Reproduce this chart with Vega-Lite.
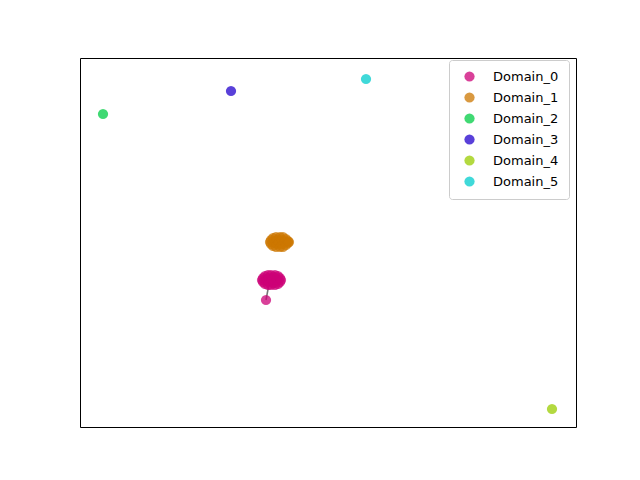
{
  "$schema": "https://vega.github.io/schema/vega-lite/v6.json",
  "width": 496,
  "height": 369,
  "autosize": {"type": "none"},
  "padding": {"left": 80, "top": 58, "right": 64, "bottom": 53},
  "background": "white",
  "config": {
    "view": {"stroke": "black", "strokeWidth": 1},
    "font": "DejaVu Sans"
  },
  "datasets": {
    "pts": [
      {"domain": "Domain_0", "x": 186, "y": 127},
      {"domain": "Domain_0", "x": 182, "y": 147},
      {"domain": "Domain_0", "x": 183, "y": 145},
      {"domain": "Domain_0", "x": 183, "y": 149},
      {"domain": "Domain_0", "x": 185, "y": 143},
      {"domain": "Domain_0", "x": 185, "y": 151},
      {"domain": "Domain_0", "x": 186, "y": 147},
      {"domain": "Domain_0", "x": 188, "y": 142},
      {"domain": "Domain_0", "x": 188, "y": 152},
      {"domain": "Domain_0", "x": 189, "y": 145},
      {"domain": "Domain_0", "x": 189, "y": 149},
      {"domain": "Domain_0", "x": 191, "y": 142},
      {"domain": "Domain_0", "x": 191, "y": 152},
      {"domain": "Domain_0", "x": 192, "y": 147},
      {"domain": "Domain_0", "x": 194, "y": 144},
      {"domain": "Domain_0", "x": 194, "y": 150},
      {"domain": "Domain_0", "x": 195, "y": 142},
      {"domain": "Domain_0", "x": 195, "y": 152},
      {"domain": "Domain_0", "x": 197, "y": 147},
      {"domain": "Domain_0", "x": 198, "y": 143},
      {"domain": "Domain_0", "x": 198, "y": 151},
      {"domain": "Domain_0", "x": 200, "y": 145},
      {"domain": "Domain_0", "x": 200, "y": 149},
      {"domain": "Domain_0", "x": 201, "y": 147},
      {"domain": "Domain_1", "x": 190, "y": 185},
      {"domain": "Domain_1", "x": 191, "y": 183},
      {"domain": "Domain_1", "x": 191, "y": 187},
      {"domain": "Domain_1", "x": 193, "y": 181},
      {"domain": "Domain_1", "x": 193, "y": 189},
      {"domain": "Domain_1", "x": 194, "y": 185},
      {"domain": "Domain_1", "x": 196, "y": 180},
      {"domain": "Domain_1", "x": 196, "y": 190},
      {"domain": "Domain_1", "x": 197, "y": 183},
      {"domain": "Domain_1", "x": 197, "y": 187},
      {"domain": "Domain_1", "x": 199, "y": 185},
      {"domain": "Domain_1", "x": 200, "y": 180},
      {"domain": "Domain_1", "x": 200, "y": 190},
      {"domain": "Domain_1", "x": 202, "y": 183},
      {"domain": "Domain_1", "x": 202, "y": 187},
      {"domain": "Domain_1", "x": 203, "y": 180},
      {"domain": "Domain_1", "x": 203, "y": 190},
      {"domain": "Domain_1", "x": 205, "y": 185},
      {"domain": "Domain_1", "x": 206, "y": 182},
      {"domain": "Domain_1", "x": 206, "y": 188},
      {"domain": "Domain_1", "x": 208, "y": 184},
      {"domain": "Domain_1", "x": 208, "y": 186},
      {"domain": "Domain_1", "x": 209, "y": 185},
      {"domain": "Domain_2", "x": 23, "y": 313},
      {"domain": "Domain_3", "x": 151, "y": 336},
      {"domain": "Domain_4", "x": 472, "y": 18},
      {"domain": "Domain_5", "x": 286, "y": 348}
    ],
    "links": [
      {"x": 189, "y": 143},
      {"x": 186, "y": 127}
    ]
  },
  "layer": [
    {
      "data": {"name": "links"},
      "mark": {"type": "line", "color": "#555555", "strokeWidth": 1.5, "opacity": 0.8},
      "encoding": {
        "x": {"field": "x", "type": "quantitative", "scale": {"domain": [0, 496]}, "axis": null},
        "y": {"field": "y", "type": "quantitative", "scale": {"domain": [0, 369]}, "axis": null}
      }
    },
    {
      "data": {"name": "pts"},
      "mark": {"type": "circle", "size": 105, "opacity": 0.75},
      "encoding": {
        "x": {"field": "x", "type": "quantitative", "scale": {"domain": [0, 496]}, "axis": null},
        "y": {"field": "y", "type": "quantitative", "scale": {"domain": [0, 369]}, "axis": null},
        "color": {
          "field": "domain",
          "type": "nominal",
          "scale": {
            "domain": ["Domain_0", "Domain_1", "Domain_2", "Domain_3", "Domain_4", "Domain_5"],
            "range": ["#cc0077", "#cc7700", "#00cc44", "#2200cc", "#99cc00", "#00cccc"]
          },
          "legend": {
            "title": null,
            "orient": "none",
            "legendX": 369,
            "legendY": 2,
            "fillColor": "white",
            "strokeColor": "#cccccc",
            "cornerRadius": 3,
            "padding": 10,
            "symbolSize": 105,
            "symbolType": "circle",
            "symbolOpacity": 0.75,
            "symbolStrokeWidth": 0,
            "symbolOffset": 4,
            "labelFontSize": 13,
            "labelFont": "DejaVu Sans",
            "labelColor": "black",
            "labelOffset": 17,
            "rowPadding": 7
          }
        }
      }
    }
  ]
}
